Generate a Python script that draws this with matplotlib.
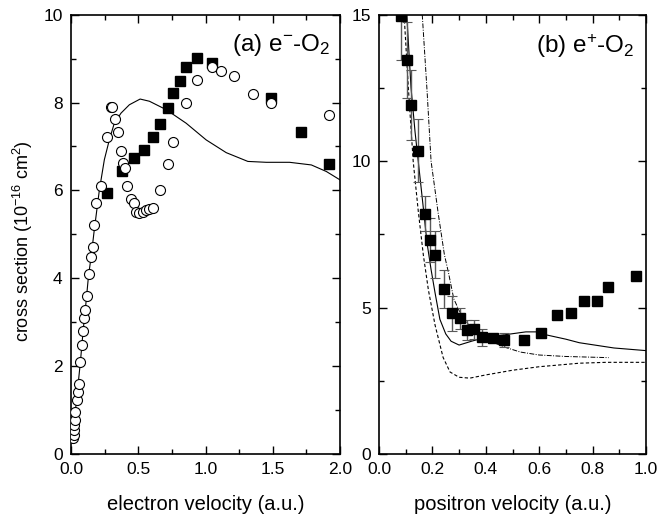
import numpy as np
import matplotlib
matplotlib.use("Agg")
import matplotlib.pyplot as plt
from matplotlib.ticker import MultipleLocator, FormatStrFormatter

plt.rcParams['font.family'] = ['Liberation Sans', 'DejaVu Sans']
plt.rcParams['mathtext.default'] = 'regular'

# (a) e- - O2 : open circles, filled squares, theory line
circ_v = [0.018, 0.020, 0.021, 0.025, 0.027, 0.032, 0.042, 0.049, 0.057, 0.067, 0.082, 0.092,
          0.099, 0.106, 0.116, 0.131, 0.149, 0.161, 0.168, 0.186, 0.223, 0.270, 0.295, 0.305,
          0.330, 0.350, 0.370, 0.390, 0.400, 0.420, 0.447, 0.466, 0.484, 0.509, 0.533, 0.558,
          0.583, 0.608, 0.663, 0.720, 0.762, 0.856, 0.938, 1.047, 1.112, 1.210, 1.352, 1.486,
          1.916]
circ_s = [0.36, 0.43, 0.55, 0.66, 0.78, 0.96, 1.23, 1.42, 1.59, 2.09, 2.48, 2.79,
          3.09, 3.28, 3.60, 4.09, 4.49, 4.71, 5.21, 5.71, 6.10, 7.21, 7.91, 7.91,
          7.62, 7.32, 6.89, 6.62, 6.52, 6.10, 5.81, 5.71, 5.52, 5.48, 5.52, 5.56,
          5.58, 5.60, 6.01, 6.61, 7.11, 8.00, 8.52, 8.82, 8.71, 8.61, 8.20, 8.00,
          7.71]

sq_v = [0.268, 0.380, 0.466, 0.541, 0.608, 0.663, 0.720, 0.762, 0.812, 0.856, 0.938, 1.047,
        1.486, 1.712, 1.916]
sq_s = [5.95, 6.45, 6.73, 6.92, 7.21, 7.52, 7.87, 8.22, 8.50, 8.81, 9.01, 8.90,
        8.10, 7.32, 6.60]

th_v = [0.015, 0.030, 0.050, 0.070, 0.090, 0.110, 0.130, 0.150, 0.173, 0.211, 0.248, 0.285,
        0.322, 0.372, 0.434, 0.514, 0.583, 0.707, 0.856, 1.005, 1.154, 1.315, 1.452, 1.625,
        1.787, 1.899, 2.000]
th_s = [0.30, 0.90, 1.50, 2.10, 2.80, 3.40, 4.05, 4.50, 5.10, 6.01, 6.70, 7.15,
        7.53, 7.76, 7.95, 8.08, 8.03, 7.84, 7.53, 7.15, 6.86, 6.66, 6.64, 6.64,
        6.58, 6.43, 6.24]

# (b) e+ - O2 : experiment with error bars and three theory curves
pos_v = [0.082, 0.104, 0.120, 0.147, 0.172, 0.191, 0.210, 0.243, 0.272, 0.303, 0.331, 0.357,
         0.385, 0.428, 0.468, 0.543, 0.607, 0.665, 0.719, 0.769, 0.815, 0.859, 0.963]
pos_s = [14.94, 13.46, 11.92, 10.36, 8.20, 7.31, 6.80, 5.62, 4.80, 4.63, 4.23, 4.26,
         3.98, 3.95, 3.89, 3.89, 4.14, 4.75, 4.83, 5.24, 5.23, 5.71, 6.08]
pos_err = [1.5, 1.3, 1.2, 1.08, 0.6, 0.75, 0.8, 0.65, 0.6, 0.36, 0.35, 0.33,
           0.28, 0.10, 0.24, 0.05, 0.05, 0.05, 0.05, 0.10, 0.15, 0.05, 0.05]

solid_v = [0.104, 0.120, 0.135, 0.147, 0.166, 0.180, 0.195, 0.210, 0.228, 0.250, 0.270, 0.300,
           0.350, 0.400, 0.470, 0.550, 0.590, 0.630, 0.700, 0.750, 0.880, 1.000]
solid_s = [15.0, 12.5, 11.0, 10.0, 8.4, 7.2, 6.3, 5.5, 4.6, 4.1, 3.85, 3.72,
           3.86, 3.98, 4.07, 4.17, 4.17, 4.06, 3.92, 3.80, 3.62, 3.53]

dash_v = [0.094, 0.110, 0.128, 0.147, 0.166, 0.185, 0.210, 0.240, 0.266, 0.300, 0.340, 0.400,
          0.500, 0.600, 0.750, 0.850, 1.000]
dash_s = [15.0, 12.5, 10.0, 8.3, 6.8, 5.6, 4.4, 3.3, 2.8, 2.62, 2.59, 2.70,
          2.86, 2.98, 3.10, 3.13, 3.13]

dd_v = [0.162, 0.180, 0.195, 0.222, 0.245, 0.260, 0.280, 0.300, 0.320, 0.350, 0.400, 0.470,
        0.530, 0.600, 0.700, 0.860]
dd_s = [15.0, 12.4, 10.0, 8.2, 6.8, 6.2, 5.3, 4.9, 4.6, 4.25, 3.92, 3.65,
        3.48, 3.38, 3.33, 3.29]

fig = plt.figure(figsize=(6.59, 5.17), dpi=100)
ax1 = fig.add_axes([71 / 659, 1 - 454 / 517, 269 / 659, 439.3 / 517])
ax2 = fig.add_axes([379 / 659, 1 - 454 / 517, 267 / 659, 439.3 / 517])

ax1.plot(th_v, th_s, color='black', lw=0.8, zorder=2)
ax1.plot(sq_v, sq_s, 's', color='black', ms=6.5, zorder=3)
ax1.plot(circ_v, circ_s, 'o', mfc='white', mec='black', mew=0.8, ms=7.2, zorder=4)
ax1.set_xlim(0, 2.0)
ax1.set_ylim(0, 10)
ax1.xaxis.set_major_locator(MultipleLocator(0.5))
ax1.xaxis.set_minor_locator(MultipleLocator(0.25))
ax1.yaxis.set_major_locator(MultipleLocator(2))
ax1.yaxis.set_minor_locator(MultipleLocator(1))
ax1.xaxis.set_major_formatter(FormatStrFormatter('%.1f'))
ax1.set_xlabel('electron velocity (a.u.)', fontsize=14.5, labelpad=13)
ax1.set_ylabel('cross section (10$^{-16}$ cm$^{2}$)', fontsize=13)
ax1.yaxis.set_label_coords(-0.135, 0.484)
ax1.text(0.965, 0.96, '(a) e$^{-}$-O$_2$', transform=ax1.transAxes,
         ha='right', va='top', fontsize=17.5)

ax2.plot(solid_v, solid_s, color='black', lw=0.8)
ax2.plot(dash_v, dash_s, color='black', lw=0.8, dashes=(3, 2))
ax2.plot(dd_v, dd_s, color='black', lw=0.7, dashes=(5, 1.5, 1, 1.5))
ax2.errorbar(pos_v, pos_s, yerr=pos_err, fmt='s', color='black', ms=6.5,
             ecolor='0.35', elinewidth=1.0, capsize=3.5, capthick=0.8, zorder=3)
ax2.set_xlim(0, 1.0)
ax2.set_ylim(0, 15)
ax2.xaxis.set_major_locator(MultipleLocator(0.2))
ax2.xaxis.set_minor_locator(MultipleLocator(0.1))
ax2.yaxis.set_major_locator(MultipleLocator(5))
ax2.yaxis.set_minor_locator(MultipleLocator(2.5))
ax2.xaxis.set_major_formatter(FormatStrFormatter('%.1f'))
ax2.set_xlabel('positron velocity (a.u.)', fontsize=14.5, labelpad=13)
ax2.text(0.955, 0.96, '(b) e$^{+}$-O$_2$', transform=ax2.transAxes,
         ha='right', va='top', fontsize=17.5)

for ax in (ax1, ax2):
    ax.tick_params(which='both', direction='in', top=True, right=True, labelsize=12.5, pad=6)
    ax.tick_params(which='major', length=6, width=1.0)
    ax.tick_params(which='minor', length=3.5, width=1.0)
    for sp in ax.spines.values():
        sp.set_linewidth(1.2)

fig.savefig('out.png', dpi=100)
